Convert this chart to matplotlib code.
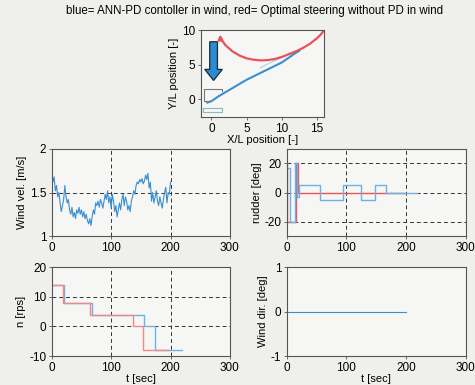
import numpy as np
import matplotlib
matplotlib.use('Agg')
import matplotlib.pyplot as plt

# trajectory (X/L, Y/L)
ann_x = [-0.6, 0, 1, 2, 3, 4, 5, 6, 7, 8, 9, 10, 11, 12, 12.5]
ann_y = [-0.5, -0.3, 0.4, 1.0, 1.6, 2.2, 2.8, 3.3, 3.8, 4.3, 4.8, 5.3, 6.0, 6.7, 7.0]
opt_x = [1.2, 2, 3, 4, 5, 6, 7, 8, 9, 10, 11, 12, 13, 14, 15, 15.6, 16]
opt_y = [8.9, 7.8, 6.9, 6.3, 5.9, 5.7, 5.6, 5.65, 5.8, 6.1, 6.5, 6.9, 7.4, 8.0, 8.8, 9.4, 10.0]

# wind velocity, sampled every 2 s from 0 to 200
wind_vel = [1.72, 1.62, 1.68, 1.52, 1.58, 1.45, 1.50, 1.38, 1.28, 1.35,
            1.42, 1.58, 1.45, 1.38, 1.42, 1.30, 1.25, 1.33, 1.22, 1.27,
            1.20, 1.30, 1.26, 1.33, 1.25, 1.30, 1.22, 1.28, 1.20, 1.25,
            1.18, 1.14, 1.20, 1.12, 1.22, 1.30, 1.25, 1.38, 1.35, 1.40,
            1.33, 1.42, 1.38, 1.32, 1.40, 1.48, 1.42, 1.52, 1.38, 1.45,
            1.32, 1.48, 1.40, 1.28, 1.35, 1.22, 1.30, 1.38, 1.30, 1.42,
            1.48, 1.35, 1.45, 1.40, 1.30, 1.35, 1.28, 1.40, 1.45, 1.52,
            1.48, 1.58, 1.62, 1.60, 1.65, 1.62, 1.66, 1.60, 1.63, 1.70,
            1.65, 1.72, 1.55, 1.62, 1.40, 1.50, 1.38, 1.45, 1.52, 1.40,
            1.35, 1.45, 1.38, 1.32, 1.42, 1.50, 1.56, 1.38, 1.50, 1.48,
            1.62]

# rudder angle (step changes)
rud_ann_t = [0, 5, 14, 17, 20, 55, 95, 125, 148, 167, 218]
rud_ann = [17, -20, 20, -3, 5, -5, 5, -5, 5, 0, 0]
rud_opt_t = [0, 1, 16, 18, 200]
rud_opt = [20, -20, 20, 0, 0]

# propeller revolutions (step changes)
n_ann_t = [0, 21, 67, 155, 174, 219]
n_ann = [14, 8, 4, 0, -8, -8]
n_opt_t = [0, 19, 64, 137, 153, 196]
n_opt = [14, 8, 4, 0, -8, -8]

# wind direction
dir_t = [0, 200]
wind_dir = [0, 0]

plt.rcParams['font.family'] = ['Liberation Sans', 'DejaVu Sans']
plt.rcParams['font.size'] = 8
plt.rcParams['xtick.labelsize'] = 8.5
plt.rcParams['ytick.labelsize'] = 8.5
plt.rcParams['axes.unicode_minus'] = False

BLUE = '#3b8fd0'
LBLUE = '#6fb2e2'
RED = '#e8525a'
LRED = '#f08a8a'
BG = '#efefeb'

fig = plt.figure(figsize=(4.75, 3.85), dpi=100, facecolor=BG)


def style(ax, grid=True):
    ax.set_facecolor('#f6f6f4')
    for s in ax.spines.values():
        s.set_color('#555555')
        s.set_linewidth(0.8)
    ax.tick_params(length=2, width=0.6, color='#555555', pad=2)
    if grid:
        ax.grid(True, color='#333333', linestyle=(0, (4, 3)), linewidth=0.7)


# top: trajectory
ax0 = fig.add_axes([0.423, 0.696, 0.259, 0.226])
style(ax0, grid=False)
ax0.plot([7, 12], [4.6, 7.0], color='#b8d8ee', lw=1.0)
ax0.plot(ann_x, ann_y, color=BLUE, lw=1.5)
ax0.plot(opt_x, opt_y, color=RED, lw=1.6)
ax0.plot(opt_x[0], opt_y[0], marker='^', color=RED, ms=3.5)
ax0.plot([-0.2, -1, -1, 1.5, 1.5], [-0.3, -0.3, 1.5, 1.5, 1.2], color='#777777', lw=0.8)
ax0.plot([-1.2, 1.5, 1.5, -1.2, -1.2], [-1.3, -1.3, -1.9, -1.9, -1.3], color='#88bbbb', lw=0.8)
ax0.arrow(0.3, 8.3, 0, -5.6, width=1.1, head_width=2.5, head_length=1.6,
          length_includes_head=True, fc='#2c8ccf', ec='#1b2a3a', lw=0.9)
ax0.set_xlim(-1.5, 16)
ax0.set_ylim(-2.6, 10)
ax0.set_xticks([0, 5, 10, 15])
ax0.set_yticks([0, 5, 10])
ax0.set_xlabel('X/L position [-]', labelpad=0)
ax0.set_ylabel('Y/L position [-]', labelpad=2)
fig.text(0.535, 0.972, 'blue= ANN-PD contoller in wind, red= Optimal steering without PD in wind',
         ha='center', va='center', fontsize=8.3)

# wind velocity
ax1 = fig.add_axes([0.109, 0.387, 0.375, 0.226])
style(ax1)
t_vel = np.linspace(0, 200, len(wind_vel))
ax1.plot(t_vel, wind_vel, color=BLUE, lw=0.8)
ax1.set_xlim(0, 300)
ax1.set_ylim(1, 2)
ax1.set_xticks([0, 100, 200, 300])
ax1.set_yticks([1, 1.5, 2])
ax1.set_yticklabels(['1', '1.5', '2'])
ax1.set_ylabel('Wind vel. [m/s]', labelpad=2)

# rudder
ax2 = fig.add_axes([0.604, 0.387, 0.376, 0.226])
style(ax2)
ax2.plot(rud_opt_t, rud_opt, color=RED, lw=1.0, drawstyle='steps-post')
ax2.plot(rud_ann_t, rud_ann, color=LBLUE, lw=1.0, drawstyle='steps-post')
ax2.set_xlim(0, 300)
ax2.set_ylim(-30, 30)
ax2.set_xticks([0, 100, 200, 300])
ax2.set_yticks([-20, 0, 20])
ax2.set_ylabel('rudder [deg]', labelpad=2)

# propeller revolutions
ax3 = fig.add_axes([0.109, 0.075, 0.375, 0.231])
style(ax3)
ax3.plot(n_ann_t, n_ann, color=LBLUE, lw=1.0, drawstyle='steps-post')
ax3.plot(n_opt_t, n_opt, color=LRED, lw=1.0, drawstyle='steps-post')
ax3.set_xlim(0, 300)
ax3.set_ylim(-10, 20)
ax3.set_xticks([0, 100, 200, 300])
ax3.set_yticks([-10, 0, 10, 20])
ax3.set_ylabel('n [rps]', labelpad=2)
ax3.set_xlabel('t [sec]', labelpad=0)

# wind direction
ax4 = fig.add_axes([0.604, 0.075, 0.376, 0.231])
style(ax4, grid=False)
ax4.plot(dir_t, wind_dir, color=BLUE, lw=0.8)
ax4.set_xlim(0, 300)
ax4.set_ylim(-1, 1)
ax4.set_xticks([0, 100, 200, 300])
ax4.set_yticks([-1, 0, 1])
ax4.set_ylabel('Wind dir. [deg]', labelpad=2)
ax4.set_xlabel('t [sec]', labelpad=0)

fig.savefig('out.png', dpi=100, facecolor=BG)
